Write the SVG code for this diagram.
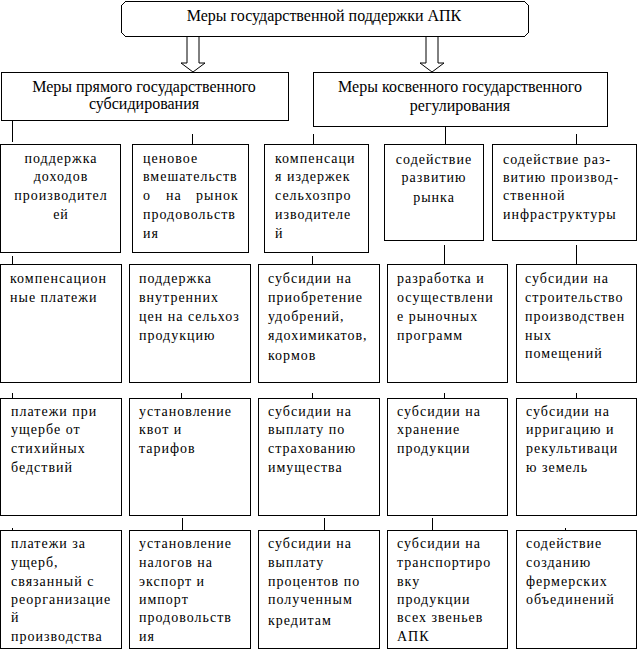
<svg xmlns="http://www.w3.org/2000/svg" width="639" height="651" viewBox="0 0 639 651">
<style>
.box{fill:#fff;stroke:#000;stroke-width:1;shape-rendering:crispEdges}
.arr{fill:#fff;stroke:#000;stroke-width:1}
.ln{stroke:#000;stroke-width:1;fill:none;shape-rendering:crispEdges}
.h{font-family:"Liberation Serif","Tinos","Times New Roman","DejaVu Serif",serif;font-size:16px;fill:#000;text-anchor:middle}
.t{font-family:"Liberation Serif","Tinos","Times New Roman","DejaVu Serif",serif;font-size:14px;letter-spacing:1px;fill:#000}
.c{text-anchor:middle}
</style>
<rect width="639" height="651" fill="#fff"/>
<g id="connectors">
<polygon class="arr" points="187,36 187,63 181,63 193,72 205,63 199,63 199,36"/>
<polygon class="arr" points="426,36 426,63 420,63 432,72 444,63 438,63 438,36"/>
<path class="ln" d="M12.5 120V142M192.5 134V147M313.5 134V147M445.5 126V147M576.5 134V147"/>
<path class="ln" d="M12.5 256V270M312.5 256V270M444.5 245V270M576.5 245V270"/>
<path class="ln" d="M12.5 393V403M181.5 393V403M312.5 393V403M444.5 393V403M576.5 393V403"/>
<path class="ln" d="M12.5 528V541M182.5 518V530M324.5 518V530M432.5 518V530M565.5 528V540"/>
</g>
<g id="root">
<polygon class="box" points="125.5,1.5 524.5,1.5 528.5,5.5 528.5,32.5 524.5,36.5 125.5,36.5 121.5,32.5 121.5,5.5"/>
<text class="h" x="324" y="21">Меры государственной поддержки АПК</text>
</g>
<g id="direct">
<rect class="box" x="1.5" y="72.5" width="287" height="48"/>
<text class="h" x="144" y="92">Меры прямого государственного</text>
<text class="h" x="144" y="109">субсидирования</text>
</g>
<g id="indirect">
<rect class="box" x="313.5" y="72.5" width="294" height="54"/>
<text class="h" x="460" y="92">Меры косвенного государственного</text>
<text class="h" x="460" y="111">регулирования</text>
</g>
<g id="r3c1">
<rect class="box" x="0.5" y="144.5" width="120" height="108"/>
<text class="t c" x="61" y="163">поддержка</text>
<text class="t c" x="61" y="181">доходов</text>
<text class="t c" x="61" y="200">производител</text>
<text class="t c" x="61" y="219">ей</text>
</g>
<g id="r3c2">
<rect class="box" x="132.5" y="144.5" width="116" height="108"/>
<text class="t" x="143" y="163">ценовое</text>
<text class="t" x="143" y="181">вмешательств</text>
<text class="t" y="200"><tspan x="143">о</tspan><tspan x="166">на</tspan><tspan x="196">рынок</tspan></text>
<text class="t" x="143" y="219">продовольств</text>
<text class="t" x="143" y="238">ия</text>
</g>
<g id="r3c3">
<rect class="box" x="264.5" y="144.5" width="104" height="108"/>
<text class="t" x="275" y="163">компенсаци</text>
<text class="t" x="275" y="181">я издержек</text>
<text class="t" x="275" y="200">сельхозпро</text>
<text class="t" x="275" y="219">изводителе</text>
<text class="t" x="275" y="238">й</text>
</g>
<g id="r3c4">
<rect class="box" x="384.5" y="144.5" width="99" height="96"/>
<text class="t c" x="434" y="164">содействие</text>
<text class="t c" x="434" y="182">развитию</text>
<text class="t c" x="434" y="202">рынка</text>
</g>
<g id="r3c5">
<rect class="box" x="492.5" y="144.5" width="144" height="96"/>
<text class="t" x="503" y="164">содействие раз-</text>
<text class="t" x="503" y="182">витию производ-</text>
<text class="t" x="503" y="200">ственной</text>
<text class="t" x="503" y="219">инфраструктуры</text>
</g>
<g id="r4c1">
<rect class="box" x="0.5" y="264.5" width="121" height="118"/>
<text class="t" x="10" y="283">компенсацион</text>
<text class="t" x="10" y="302">ные платежи</text>
</g>
<g id="r4c2">
<rect class="box" x="129.5" y="264.5" width="121" height="118"/>
<text class="t" x="139" y="283">поддержка</text>
<text class="t" x="139" y="302">внутренних</text>
<text class="t" x="139" y="321">цен на сельхоз</text>
<text class="t" x="139" y="340">продукцию</text>
</g>
<g id="r4c3">
<rect class="box" x="258.5" y="264.5" width="121" height="118"/>
<text class="t" x="268" y="283">субсидии на</text>
<text class="t" x="268" y="302">приобретение</text>
<text class="t" x="268" y="321">удобрений,</text>
<text class="t" x="268" y="340">ядохимикатов,</text>
<text class="t" x="268" y="360">кормов</text>
</g>
<g id="r4c4">
<rect class="box" x="387.5" y="264.5" width="120" height="118"/>
<text class="t" x="397" y="283">разработка и</text>
<text class="t" x="397" y="302">осуществлени</text>
<text class="t" x="397" y="321">е рыночных</text>
<text class="t" x="397" y="340">программ</text>
</g>
<g id="r4c5">
<rect class="box" x="516.5" y="264.5" width="120" height="118"/>
<text class="t" x="525" y="283">субсидии на</text>
<text class="t" x="525" y="302">строительство</text>
<text class="t" x="525" y="321">производствен</text>
<text class="t" x="525" y="340">ных</text>
<text class="t" x="525" y="358">помещений</text>
</g>
<g id="r5c1">
<rect class="box" x="0.5" y="398.5" width="121" height="117"/>
<text class="t" x="11" y="416">платежи при</text>
<text class="t" x="11" y="434">ущербе от</text>
<text class="t" x="11" y="453">стихийных</text>
<text class="t" x="11" y="472">бедствий</text>
</g>
<g id="r5c2">
<rect class="box" x="129.5" y="398.5" width="121" height="117"/>
<text class="t" x="139" y="416">установление</text>
<text class="t" x="139" y="434">квот и</text>
<text class="t" x="139" y="453">тарифов</text>
</g>
<g id="r5c3">
<rect class="box" x="258.5" y="398.5" width="121" height="117"/>
<text class="t" x="268" y="416">субсидии на</text>
<text class="t" x="268" y="434">выплату по</text>
<text class="t" x="268" y="453">страхованию</text>
<text class="t" x="268" y="472">имущества</text>
</g>
<g id="r5c4">
<rect class="box" x="387.5" y="398.5" width="120" height="117"/>
<text class="t" x="397" y="416">субсидии на</text>
<text class="t" x="397" y="434">хранение</text>
<text class="t" x="397" y="453">продукции</text>
</g>
<g id="r5c5">
<rect class="box" x="516.5" y="398.5" width="120" height="117"/>
<text class="t" x="526" y="416">субсидии на</text>
<text class="t" x="526" y="434">ирригацию и</text>
<text class="t" x="526" y="453">рекультиваци</text>
<text class="t" x="526" y="472">ю земель</text>
</g>
<g id="r6c1">
<rect class="box" x="0.5" y="530.5" width="121" height="118"/>
<text class="t" x="11" y="548">платежи за</text>
<text class="t" x="11" y="567">ущерб,</text>
<text class="t" x="11" y="586">связанный с</text>
<text class="t" x="11" y="604">реорганизацие</text>
<text class="t" x="11" y="622">й</text>
<text class="t" x="11" y="641">производства</text>
</g>
<g id="r6c2">
<rect class="box" x="129.5" y="530.5" width="121" height="118"/>
<text class="t" x="139" y="548">установление</text>
<text class="t" x="139" y="567">налогов на</text>
<text class="t" x="139" y="586">экспорт и</text>
<text class="t" x="139" y="604">импорт</text>
<text class="t" x="139" y="622">продовольств</text>
<text class="t" x="139" y="641">ия</text>
</g>
<g id="r6c3">
<rect class="box" x="258.5" y="530.5" width="121" height="118"/>
<text class="t" x="268" y="548">субсидии на</text>
<text class="t" x="268" y="567">выплату</text>
<text class="t" x="268" y="586">процентов по</text>
<text class="t" x="268" y="604">полученным</text>
<text class="t" x="268" y="625">кредитам</text>
</g>
<g id="r6c4">
<rect class="box" x="387.5" y="530.5" width="120" height="118"/>
<text class="t" x="397" y="548">субсидии на</text>
<text class="t" x="397" y="567">транспортиро</text>
<text class="t" x="397" y="586">вку</text>
<text class="t" x="397" y="604">продукции</text>
<text class="t" x="397" y="622">всех звеньев</text>
<text class="t" x="397" y="641">АПК</text>
</g>
<g id="r6c5">
<rect class="box" x="516.5" y="530.5" width="120" height="118"/>
<text class="t" x="526" y="548">содействие</text>
<text class="t" x="526" y="567">созданию</text>
<text class="t" x="526" y="586">фермерских</text>
<text class="t" x="526" y="604">объединений</text>
</g>
</svg>
